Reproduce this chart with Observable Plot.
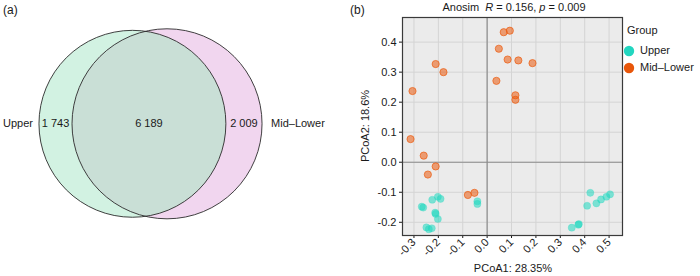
<!DOCTYPE html>
<html><head><meta charset="utf-8">
<script src="https://cdn.jsdelivr.net/npm/d3@7"></script>
<script src="https://cdn.jsdelivr.net/npm/@observablehq/plot@0.6"></script>
<style>
body{margin:0;background:#fff;}
#chart{position:relative;width:700px;height:276px;font-family:"Liberation Sans",Arial,sans-serif;font-size:11px;color:#1a1a1a;overflow:hidden;}
#chart svg{position:absolute;top:0;}
.abs{position:absolute;white-space:nowrap;line-height:1;}
</style></head><body><div id="chart"></div>
<script>
// ---------- data: panel (a) Venn ----------
const vennSets = ["Upper", "Mid–Lower"];
const vennOnly = [1743, 2009];
const vennShared = 6189;
const vennLabels = ["1 743", "6 189", "2 009"];

// ---------- data: panel (b) PCoA ----------
const groups = ["Upper", "Mid–Lower"];
const upperX = [-0.268,-0.262,-0.225,-0.202,-0.191,-0.211,-0.213,-0.202,-0.249,-0.239,-0.227,-0.040,-0.040,0.423,0.410,0.448,0.467,0.489,0.504,0.347,0.374,0.376];
const upperY = [-0.148,-0.151,-0.125,-0.115,-0.122,-0.172,-0.168,-0.189,-0.217,-0.223,-0.220,-0.130,-0.139,-0.102,-0.145,-0.137,-0.124,-0.115,-0.107,-0.218,-0.208,-0.206];
const midX = [0.068,0.093,0.048,0.084,0.128,0.186,-0.211,-0.179,0.038,0.116,0.116,-0.306,-0.314,-0.260,-0.211,-0.243,-0.079,-0.052];
const midY = [0.433,0.438,0.378,0.342,0.339,0.330,0.327,0.300,0.271,0.223,0.208,0.237,0.077,0.022,-0.014,-0.041,-0.109,-0.102];
const xTicks = [-0.3,-0.2,-0.1,0,0.1,0.2,0.3,0.4,0.5];
const yTicks = [-0.2,-0.1,0,0.1,0.2,0.3,0.4];
const anosimR = "0.156", anosimP = "0.009";
const pc1Label = "PCoA1: 28.35%", pc2Label = "PCoA2: 18.6%";

// ---------- styles ----------
const FONT = '"Liberation Sans", Arial, sans-serif';
const vennFill = ["#d2f2e2", "#f1d6ef"];
const lensFill = "#c9dfd6";
const groupColor = {"Upper": "#1ed8c0", "Mid–Lower": "#eb5a0c"};
const legendColor = {"Upper": "#22d6c0", "Mid–Lower": "#e8560a"};

const chart = document.getElementById("chart");

// ---------- Venn layout (area-proportional) ----------
const A1 = vennOnly[0] + vennShared, A2 = vennOnly[1] + vennShared;
const r1 = Math.sqrt(A1 / Math.PI), r2 = Math.sqrt(A2 / Math.PI);
function lens(d) {
  if (d >= r1 + r2) return 0;
  if (d <= Math.abs(r1 - r2)) return Math.PI * Math.min(r1, r2) ** 2;
  const a = r1*r1*Math.acos((d*d + r1*r1 - r2*r2)/(2*d*r1));
  const b = r2*r2*Math.acos((d*d + r2*r2 - r1*r1)/(2*d*r2));
  const c = 0.5*Math.sqrt((-d+r1+r2)*(d+r1-r2)*(d-r1+r2)*(d+r1+r2));
  return a + b - c;
}
let lo = Math.abs(r1 - r2) + 1e-9, hi = r1 + r2;
for (let i = 0; i < 80; i++) { const m = (lo + hi)/2; if (lens(m) > vennShared) lo = m; else hi = m; }
const dist = (lo + hi)/2;
const k = 1.86;             // px per unit
const W = 350, H = 276;
const mid = (-r1 + dist + r2)/2;
const cxPx = 150, cyPx = 123.3;
const circles = [
  {name: vennSets[0], cx: 0, cy: 0, r: r1, fill: vennFill[0]},
  {name: vennSets[1], cx: dist, cy: 0, r: r2, fill: vennFill[1]}
];
const vennText = [
  {x: (-r1 + dist - r2)/2, label: vennLabels[0]},
  {x: ((dist - r2) + r1)/2, label: vennLabels[1]},
  {x: (r1 + dist + r2)/2, label: vennLabels[2]}
];

const plotA = Plot.plot({
  width: W, height: H, margin: 0,
  style: {fontFamily: FONT, fontSize: "11px", color: "#1a1a1a", background: "transparent"},
  x: {domain: [mid - cxPx/k, mid + (W - cxPx)/k], range: [0, W], axis: null},
  y: {domain: [-(H - cyPx)/k, cyPx/k], range: [H, 0], axis: null},
  r: {type: "identity"},
  marks: [
    Plot.dot(circles, {x: "cx", y: "cy", r: d => d.r * k, fill: "fill", stroke: "none", sort: null}),
    Plot.dot([circles[0]], {x: "cx", y: "cy", r: d => d.r * k, fill: lensFill, stroke: "none"}),
    Plot.dot(circles, {x: "cx", y: "cy", r: d => d.r * k, fill: "none", stroke: "#2b2b2b", strokeWidth: 0.9, sort: null}),
    Plot.text(vennText, {x: "x", y: 0, text: "label", fill: "#1a1a1a", fontSize: 11}),
    Plot.text([circles[0]], {x: d => d.cx - d.r, y: 0, text: "name", textAnchor: "end", dx: -6, fontSize: 11, fill: "#1a1a1a"}),
    Plot.text([circles[1]], {x: d => d.cx + d.r, y: 0, text: "name", textAnchor: "start", dx: 9, fontSize: 11, fill: "#1a1a1a"})
  ]
});
plotA.style.left = "0px";
chart.appendChild(plotA);

// clip the lens circle to the right circle
(function() {
  const svg = d3.select(plotA);
  const dotGroups = plotA.querySelectorAll('g[aria-label="dot"]');
  if (dotGroups.length >= 3) {
    const cs = Array.from(dotGroups[0].querySelectorAll("circle"));
    // right circle = the one lying furthest to the right
    const rightCircle = cs.reduce((a, b) => (+b.getAttribute("cx") > +a.getAttribute("cx") ? b : a));
    const defs = svg.insert("defs", ":first-child");
    const cp = defs.append("clipPath").attr("id", "rightClip");
    const clone = rightCircle.cloneNode(true);
    cp.node().appendChild(clone);
    d3.select(dotGroups[1]).attr("clip-path", "url(#rightClip)");
  }
})();

// ---------- PCoA ----------
const points = [
  ...upperX.map((x, i) => ({x, y: upperY[i], group: groups[0]})),
  ...midX.map((x, i) => ({x, y: midY[i], group: groups[1]}))
];
const fmt = d => d.toFixed(1);

const plotB = Plot.plot({
  width: W, height: H,
  marginLeft: 52, marginRight: 78, marginTop: 17, marginBottom: 41,
  style: {fontFamily: FONT, fontSize: "11px", color: "#1a1a1a", background: "transparent"},
  x: {domain: [-0.347, 0.555], ticks: xTicks, tickFormat: fmt, tickRotate: -45, tickSize: 3, tickPadding: 2, label: null},
  y: {domain: [-0.244, 0.482], ticks: yTicks, tickFormat: fmt, tickSize: 3, tickPadding: 3, label: null},
  marks: [
    Plot.frame({fill: "#ebebeb", stroke: "none"}),
    Plot.ruleX(xTicks, {stroke: "#d4d4d4", strokeWidth: 1}),
    Plot.ruleY(yTicks, {stroke: "#d4d4d4", strokeWidth: 1}),
    Plot.ruleX([0], {stroke: "#8c8c8c", strokeWidth: 1.2}),
    Plot.ruleY([0], {stroke: "#8c8c8c", strokeWidth: 1.2}),
    Plot.dot(points, {x: "x", y: "y", r: 3.6,
      fill: d => groupColor[d.group], fillOpacity: 0.55,
      stroke: d => groupColor[d.group], strokeOpacity: d => d.group === groups[1] ? 0.75 : 0.25, strokeWidth: 0.9}),
    Plot.frame({stroke: "#3a3a3a", strokeWidth: 1.2})
  ]
});
plotB.style.left = "350px";
chart.appendChild(plotB);

// ---------- HTML text ----------
function addText(html, left, top, extra) {
  const d = document.createElement("div");
  d.className = "abs";
  d.innerHTML = html;
  d.style.left = left + "px";
  d.style.top = top + "px";
  if (extra) Object.assign(d.style, extra);
  chart.appendChild(d);
  return d;
}
addText("(a)", 3, 4, {fontSize: "12px"});
addText("(b)", 350, 4, {fontSize: "12px"});
addText(`Anosim&nbsp;&nbsp;<i>R</i> = ${anosimR}, <i>p</i> = ${anosimP}`, 514, 2, {transform: "translateX(-50%)"});
addText(pc1Label, 513, 263, {transform: "translateX(-50%)"});
addText(pc2Label, 365, 126, {transform: "translate(-50%,-50%) rotate(-90deg)"});
addText("Group", 627, 25);
groups.forEach((g, i) => {
  const top = 51 + i * 17;
  const s = document.createElementNS("http://www.w3.org/2000/svg", "svg");
  s.setAttribute("width", 12); s.setAttribute("height", 12);
  s.style.position = "absolute"; s.style.left = "623px"; s.style.top = (top - 6) + "px";
  const c = document.createElementNS("http://www.w3.org/2000/svg", "circle");
  c.setAttribute("cx", 6); c.setAttribute("cy", 6); c.setAttribute("r", 5.2);
  c.setAttribute("fill", legendColor[g]);
  s.appendChild(c);
  chart.appendChild(s);
  addText(g, 640, top - 6);
});
</script></body></html>
